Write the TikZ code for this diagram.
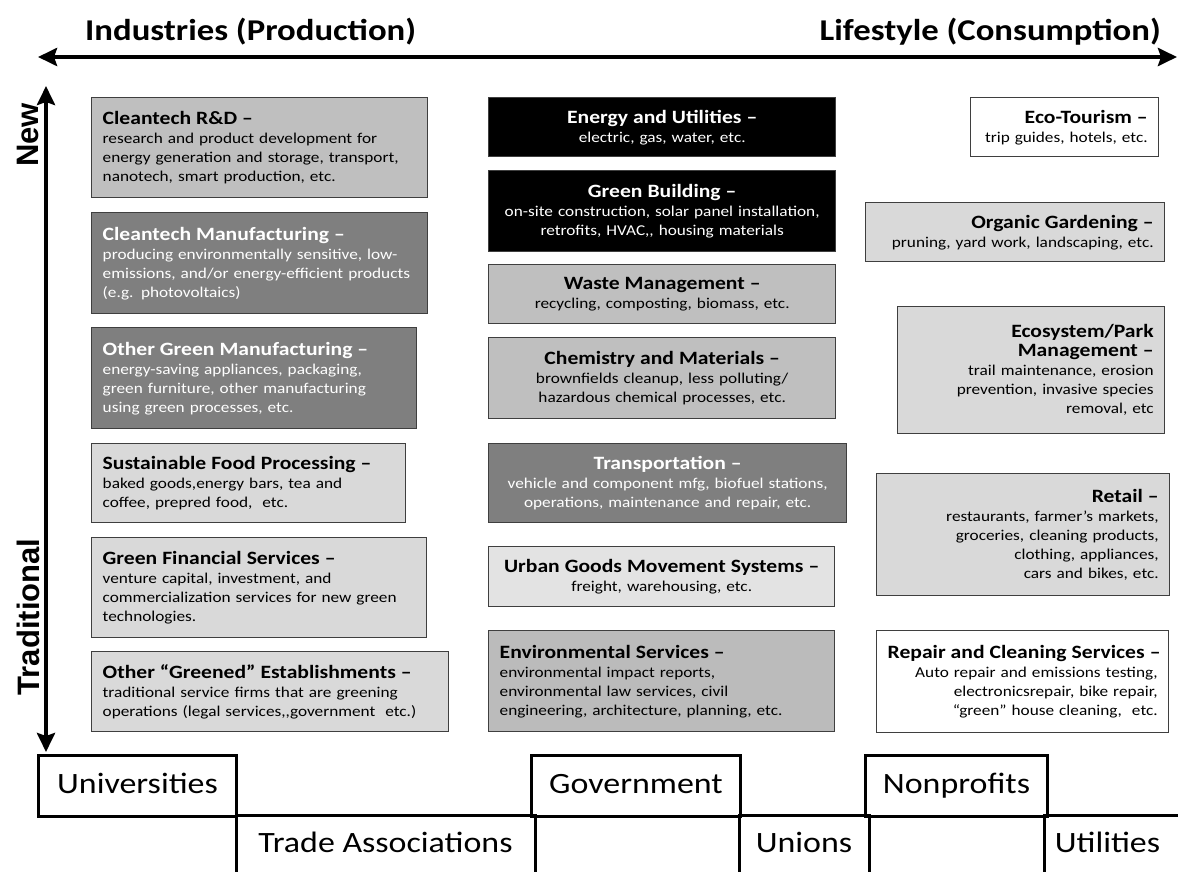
\documentclass[tikz,border=0pt]{standalone}
\usepackage{fontspec}
\setmainfont[FakeStretch=1.15]{Carlito}
\newfontfamily\axisfont{Liberation Sans}
\usetikzlibrary{arrows.meta}

\newcommand\boxtitle[1]{\mbox{\fontsize{18.8}{23}\selectfont\bfseries #1}}

\begin{document}
\begin{tikzpicture}[x=1pt,y=-1pt,
    box/.style={draw=boxline, line width=1.4pt, anchor=north west, inner xsep=11pt, inner ysep=0pt, font=\fontsize{15}{19}\selectfont},
    boxl/.style={box, align=left},
    boxc/.style={box, align=center},
    boxr/.style={box, align=right},
    actor/.style={line width=3pt, anchor=north west, inner sep=0pt, text height=21pt, text depth=6pt, font=\fontsize{29.5}{34}\selectfont},
    axis/.style={line width=4pt, {Stealth[length=19pt,width=18pt,inset=3pt]}-{Stealth[length=19pt,width=18pt,inset=3pt]}},
    heading/.style={inner sep=0pt, font=\fontsize{30.2}{36}\selectfont\bfseries},
    sidelabel/.style={rotate=90, inner sep=0pt, font={\axisfont\bfseries\fontsize{31}{36}\selectfont}}]
		\definecolor{boxline}{HTML}{3F3F3F}
		\definecolor{midgray}{HTML}{BFBFBF}
		\definecolor{deepgray}{HTML}{7F7F7F}
		\definecolor{palegray}{HTML}{D9D9D9}
		\definecolor{lightfill}{HTML}{E3E3E3}
		\definecolor{envgray}{HTML}{BBBBBB}
		\useasboundingbox (0,0) rectangle (1178,872);
		
		% axes
		\coordinate (west) at (38,57);
		\coordinate (east) at (1177,57);
		\coordinate (newend) at (46,86);
		\coordinate (oldend) at (46,752);
		\draw[axis] (west) -- (east);
		\draw[axis] (newend) -- (oldend);
		
		% labels
		\node[heading, anchor=base west] (prod) at (85,41) {Industries (Production)};
		\node[heading, anchor=base east] (cons) at (1161,41) {Lifestyle (Consumption)};
		\node[sidelabel] (newlbl) at (28,135) {New};
		\node[sidelabel] (tradlbl) at (28,617) {Traditional};
		
		% industries
		\node[boxl, fill=midgray, text width=314pt, minimum height=100pt] (rnd) at (91,97) {\boxtitle{Cleantech R\&D --}\\research and product development for\\energy generation and storage, transport,\\nanotech, smart production, etc.};
		\node[boxl, fill=deepgray, text=white, text width=314pt, minimum height=101pt] (cmfg) at (91,212) {\boxtitle{Cleantech Manufacturing --}\\producing environmentally sensitive, low-\\emissions, and/or energy-efficient products\\(e.g. photovoltaics)};
		\node[boxl, fill=deepgray, text=white, text width=303pt, minimum height=101pt] (ogm) at (91,327) {\boxtitle{Other Green Manufacturing --}\\energy-saving appliances, packaging,\\green furniture, other manufacturing\\using green processes, etc.};
		\node[boxl, fill=palegray, text width=292pt, minimum height=79pt] (food) at (91,443) {\boxtitle{Sustainable Food Processing --}\\baked goods,energy bars, tea and\\coffee, prepred food,~ etc.};
		\node[boxl, fill=palegray, text width=313pt, minimum height=100pt] (fin) at (91,537) {\boxtitle{Green Financial Services --}\\venture capital, investment, and\\commercialization services for new green\\technologies.};
		\node[boxl, fill=palegray, text width=335pt, minimum height=80pt] (greened) at (91,651) {\boxtitle{Other “Greened” Establishments --}\\traditional service firms that are greening\\operations (legal services,\kern0pt,government~ etc.)};
		
		% sectors
		\node[boxc, fill=black, text=white, text width=325pt, minimum height=59pt] (energy) at (488,97) {\boxtitle{Energy and Utilities --}\\electric, gas, water, etc.};
		\node[boxc, fill=black, text=white, text width=325pt, minimum height=81pt] (building) at (488,170) {\boxtitle{Green Building --}\\on-site construction, solar panel installation,\\retrofits, HVAC,\kern0pt, housing materials};
		\node[boxc, fill=midgray, text width=325pt, minimum height=59pt] (waste) at (488,264) {\boxtitle{Waste Management --}\\recycling, composting, biomass, etc.};
		\node[boxc, fill=midgray, text width=325pt, minimum height=81pt] (chem) at (488,337) {\boxtitle{Chemistry and Materials --}\\brownfields cleanup, less polluting/\\hazardous chemical processes, etc.};
		\node[boxc, fill=deepgray, text=white, text width=336pt, minimum height=79pt] (transport) at (488,443) {\boxtitle{Transportation --}\\vehicle and component mfg, biofuel stations,\\operations, maintenance and repair, etc.};
		\node[boxc, fill=lightfill, text width=324pt, minimum height=60pt] (urban) at (488,546) {\boxtitle{Urban Goods Movement Systems --}\\freight, warehousing, etc.};
		\node[boxl, fill=envgray, text width=324pt, minimum height=101pt] (envserv) at (488,630) {\boxtitle{Environmental Services --}\\environmental impact reports,\\environmental law services, civil\\engineering, architecture, planning, etc.};
		
		% lifestyle
		\node[boxr, fill=white, text width=166pt, minimum height=59pt] (tourism) at (970,97) {\boxtitle{Eco-Tourism --}\\trip guides, hotels, etc.};
		\node[boxr, fill=palegray, text width=277pt, minimum height=59pt] (garden) at (865,202) {\boxtitle{Organic Gardening --}\\pruning, yard work, landscaping, etc.};
		\node[boxr, fill=palegray, text width=245pt, minimum height=127pt] (park) at (897,306) {\boxtitle{Ecosystem/Park}\\\boxtitle{Management --}\\trail maintenance, erosion\\prevention, invasive species\\removal, etc};
		\node[boxr, fill=palegray, text width=271pt, minimum height=122pt] (retail) at (876,473) {\boxtitle{Retail --}\\restaurants, farmer’s markets,\\groceries, cleaning products,\\clothing, appliances,\\cars and bikes, etc.};
		\node[boxr, fill=white, text width=270pt, minimum height=102pt] (repair) at (876,630) {\boxtitle{Repair and Cleaning Services --}\\Auto repair and emissions testing,\\electronicsrepair, bike repair,\\“green” house cleaning,~ etc.};
		
		% partners
		\node[actor, draw, minimum width=198pt, minimum height=61pt] (univ) at (37,754) {Universities};
		\node[actor, draw, minimum width=209pt, minimum height=61pt] (gov) at (530,754) {Government};
		\node[actor, draw, minimum width=182pt, minimum height=61pt] (nonprofit) at (864,754) {Nonprofits};
		\node[actor, minimum width=296pt, minimum height=57pt] (trade) at (236,815) {Trade Associations};
		\node[actor, minimum width=127pt, minimum height=57pt] (unions) at (739,815) {Unions};
		\node[actor, minimum width=124pt, minimum height=57pt] (util) at (1044,815) {Utilities};
		\draw[line width=3pt] (trade.south west) |- (trade.north east) -- (trade.south east);
		\draw[line width=3pt] (unions.south west) |- (unions.north east) -- (unions.south east);
		\draw[line width=3pt] (util.south west) |- (1178,815);
\end{tikzpicture}
\end{document}
